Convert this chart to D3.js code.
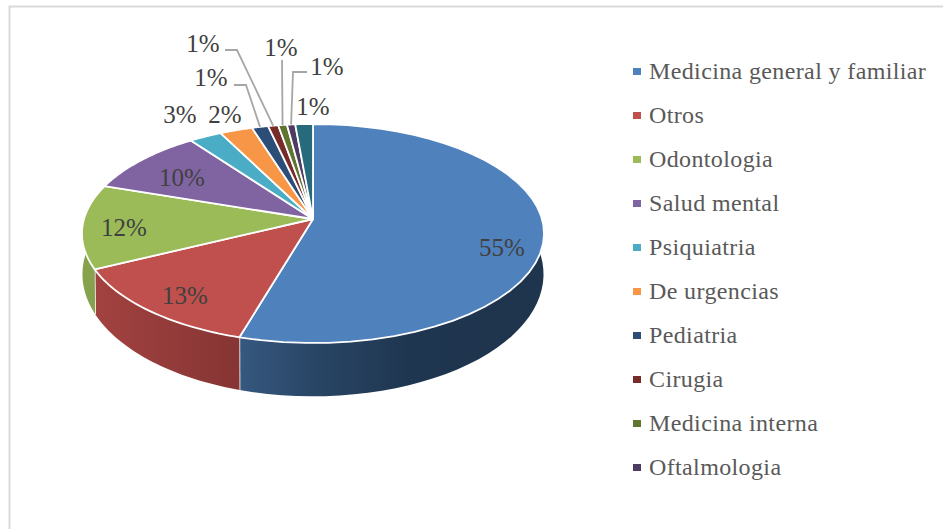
<!DOCTYPE html>
<html><head><meta charset="utf-8">
<script src="https://cdn.jsdelivr.net/npm/d3@7"></script>
<style>html,body{margin:0;padding:0;background:#fff;overflow:hidden}svg{display:block}</style>
</head><body>
<svg id="c" width="943" height="529"></svg>
<script>
const categories = ["Medicina general y familiar","Otros","Odontologia","Salud mental","Psiquiatria","De urgencias","Pediatria","Cirugia","Medicina interna","Oftalmologia","Oncologia"];
const values = [54.5,13.2,12.4,9.8,2.6,2.6,1.3,0.8,0.7,0.65,1.4];
const percentLabels = ["55%","13%","12%","10%","3%","2%","1%","1%","1%","1%","1%"];
const colors = ["#4f81bd","#c0504d","#9bbb59","#8064a2","#4bacc6","#f79646","#2c4d75","#772c2a","#5f7530","#4d3b62","#276a7c"];
const legendCount = 10;

const W=943,H=529, cx=313;
const upper={y:219,a:107.6,b:229}, lower={y:258,a:120,b:228.5}, k=0.1324;
const serif = "'Liberation Serif',serif";
const svg = d3.select("#c");
const defs = svg.append("defs");

// perspective projection of a disc (top face or bottom ring)
const px = (t,p=upper)=> cx + p.b*Math.sin(t)/(1 + k*Math.cos(t));
const py = (t,p=upper)=> p.y - p.a*Math.cos(t)/(1 + k*Math.cos(t));
const rim = (t0,t1)=> d3.range(0,41).map(i=>t0+(t1-t0)*i/40);
const line = d3.line();

const arcs = d3.pie().sort(null).value(d=>d)(values);

// frame
svg.append("path").attr("d",`M9.5 ${H}V6.5H${W}`).attr("fill","none").attr("stroke","#d9d9d9").attr("stroke-width",2);

// side gradients
const shade = (c,f)=>d3.rgb(c).darker(f).formatHex();
colors.forEach((c,i)=>{
  const g = defs.append("linearGradient").attr("id","g"+i).attr("gradientUnits","userSpaceOnUse")
    .attr("x1",i==0?240:82).attr("x2",i==0?544:240).attr("y1",0).attr("y2",0);
  const stops = i==0 ? [[0,"#36587f"],[.22,"#2a4767"],[.55,"#1f3650"],[1,"#1f344d"]]
    : i==1 ? [[0,"#a54341"],[1,"#853534"]]
    : [[0,shade(c,.4)],[1,shade(c,.4)]];
  stops.forEach(s=>g.append("stop").attr("offset",s[0]).attr("stop-color",s[1]));
});

// side walls: only the near part of the rim shows, the top face covers the rest
const wallFrom=70*Math.PI/180, wallTo=290*Math.PI/180;
const sides = svg.append("g");
arcs.forEach((d,i)=>{
  const s=Math.max(d.startAngle,wallFrom), e=Math.min(d.endAngle,wallTo);
  if(e<=s) return;
  const top = rim(s,e).map(t=>[px(t),py(t)]);
  const bot = rim(e,s).map(t=>[px(t,lower),py(t,lower)]);
  sides.append("path").attr("d",line(top.concat(bot))+"Z").attr("fill",`url(#g${i})`);
  // white seam between neighbouring walls
  if(i==0||i==1) sides.append("path").attr("d",line([[px(e),py(e)],[px(e,lower),py(e,lower)]]))
    .attr("stroke","#fff").attr("stroke-width",1.6);
});

// top faces
const faces = svg.append("g");
arcs.forEach((d,i)=>{
  const pts=[[cx,upper.y]].concat(rim(d.startAngle,d.endAngle).map(t=>[px(t),py(t)]));
  faces.append("path").attr("d",line(pts)+"Z").attr("fill",colors[i])
    .attr("stroke","#fff").attr("stroke-width",1.8).attr("stroke-linejoin","round");
});

// data labels, in slice order
const labelPos = [[502,248],[185,296],[124,228],[182,178],[180,115],[225,115],[211,78],[203,44],[281,48],[327,67],[313,107]];
const labels = svg.append("g").attr("font-family",serif).attr("font-size",25).attr("fill","#404040").attr("text-anchor","middle");
percentLabels.forEach((t,i)=>{
  labels.append("text").attr("x",labelPos[i][0]).attr("y",labelPos[i][1]+8).text(t);
});

// leader lines for the smallest slices
const leaderStart = {6:[[234,85],[246,85]],7:[[225,50],[237,50]],8:[[282,60]],9:[[307,72],[293,72]]};
const leaders = svg.append("g").attr("fill","none").attr("stroke","#a6a6a6").attr("stroke-width",1.8);
Object.keys(leaderStart).forEach(i=>{
  const d=arcs[i], m=(d.startAngle+d.endAngle)/2;
  leaders.append("path").attr("d",line(leaderStart[i].concat([[px(m),py(m)]])));
});

// legend
const legY = d3.scalePoint().domain(d3.range(legendCount)).range([71.5,467.5]);
const leg = svg.append("g");
categories.slice(0,legendCount).forEach((c,i)=>{
  leg.append("rect").attr("x",633).attr("y",legY(i)-3.5).attr("width",8).attr("height",7).attr("fill",colors[i]);
  leg.append("text").attr("x",649).attr("y",legY(i)+7.5).attr("font-family",serif).attr("font-size",24)
    .attr("letter-spacing",0.37).attr("fill","#595959").text(c);
});
</script>
</body></html>
